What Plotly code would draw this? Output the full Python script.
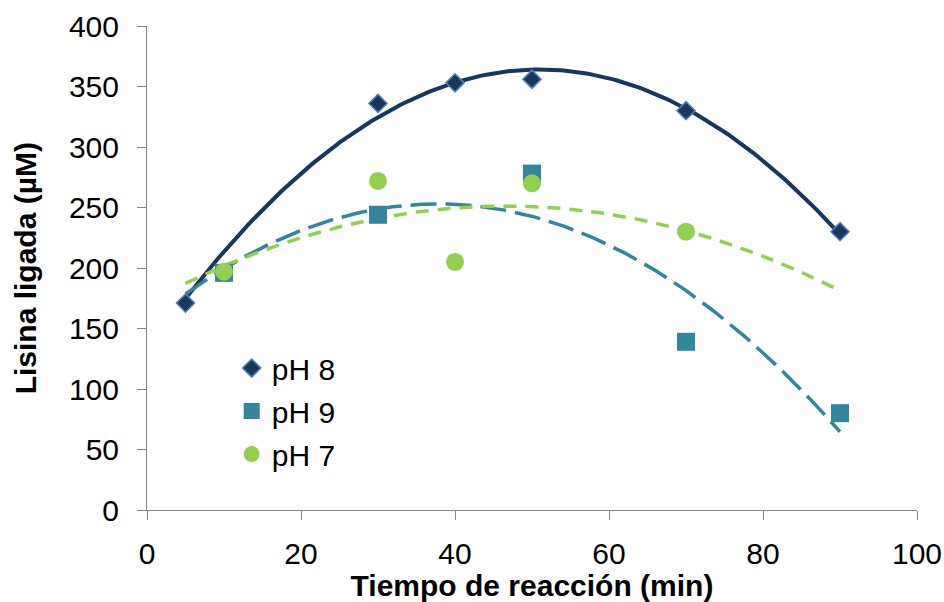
import numpy as np
import plotly.graph_objects as go

# ---- data ----
x_ph8 = [5, 30, 40, 50, 70, 90]
y_ph8 = [171, 336, 353, 356, 330, 230]

x_ph9 = [10, 30, 50, 70, 90]
y_ph9 = [196, 244, 278, 139, 80]

x_ph7 = [10, 30, 40, 50, 70]
y_ph7 = [197, 272, 205, 270, 230]

trend_start, trend_end = 5, 90
x_ticks = [0, 20, 40, 60, 80, 100]
y_ticks = [0, 50, 100, 150, 200, 250, 300, 350, 400]

NAVY = "#17375E"
NAVY_EDGE = "#4F81BD"
TEAL = "#31859C"
GREEN = "#92D050"
AXIS = "#868686"
FONT = "Liberation Sans, Arial, sans-serif"

def trend(xs, ys):
    coef = np.polyfit(xs, ys, 2)
    xx = np.linspace(trend_start, trend_end, 200)
    return xx, np.polyval(coef, xx)

fig = go.Figure()

# trendlines (polynomial order 2, like Excel)
for xs, ys, col, dash, w in [
    (x_ph8, y_ph8, NAVY, "solid", 4),
    (x_ph9, y_ph9, TEAL, "26px,9px", 3.5),
    (x_ph7, y_ph7, GREEN, "13px,9px", 3.5),
]:
    tx, ty = trend(xs, ys)
    fig.add_trace(go.Scatter(x=tx, y=ty, mode="lines", showlegend=False,
                             hoverinfo="skip",
                             line=dict(color=col, width=w, dash=dash)))

fig.add_trace(go.Scatter(x=x_ph8, y=y_ph8, mode="markers", name="pH 8",
                         legendgroup="a",
                         marker=dict(symbol="diamond", size=14, color=NAVY,
                                     line=dict(color=NAVY_EDGE, width=1.5))))
fig.add_trace(go.Scatter(x=x_ph9, y=y_ph9, mode="markers", name="pH 9",
                         legendgroup="b",
                         marker=dict(symbol="square", size=18, color=TEAL,
                                     line=dict(width=0))))
fig.add_trace(go.Scatter(x=x_ph7, y=y_ph7, mode="markers", name="pH 7",
                         legendgroup="c",
                         marker=dict(symbol="circle", size=18, color=GREEN,
                                     line=dict(width=0))))

fig.update_layout(
    width=944, height=602,
    margin=dict(l=147, r=27, t=26, b=92, autoexpand=False),
    paper_bgcolor="white", plot_bgcolor="white",
    font=dict(family=FONT, size=30, color="black"),
    legend=dict(x=0.11, y=0.347, xanchor="left", yanchor="top",
                bgcolor="rgba(0,0,0,0)", tracegroupgap=1,
                font=dict(size=30)),
    xaxis=dict(range=[0, 100], tickvals=x_ticks, showgrid=False, zeroline=False,
               showline=True, linecolor=AXIS, linewidth=1, automargin=False,
               ticks="outside", ticklen=9, tickcolor=AXIS,
               tickfont=dict(size=30), ticklabelstandoff=8,
               title=dict(text="<b>Tiempo de reacción (min)</b>",
                          font=dict(size=30), standoff=6)),
    yaxis=dict(range=[0, 400], tickvals=y_ticks, showgrid=False, zeroline=False,
               showline=True, linecolor=AXIS, linewidth=1, automargin=False,
               ticks="outside", ticklen=9, tickcolor=AXIS,
               tickfont=dict(size=30), ticklabelstandoff=12),
    annotations=[dict(text="<b>Lisina ligada (µM)</b>", textangle=-90,
                      xref="paper", yref="paper", x=-0.158, y=0.5,
                      xanchor="center", yanchor="middle", showarrow=False,
                      font=dict(size=30, color="black"))],
)

fig.write_html("out.html")
